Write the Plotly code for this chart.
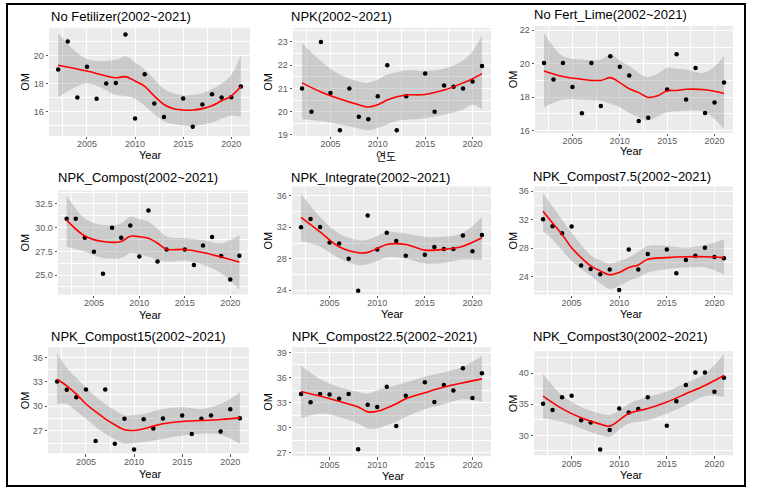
import plotly.graph_objects as go

W, H = 759, 492

years = [2002, 2003, 2004, 2005, 2006, 2007, 2008, 2009, 2010, 2011, 2012, 2013,
         2015, 2016, 2017, 2018, 2019, 2020, 2021]

titles = ["No Fetilizer(2002~2021)", "NPK(2002~2021)", "No Fert_Lime(2002~2021)",
          "NPK_Compost(2002~2021)", "NPK_Integrate(2002~2021)", "NPK_Compost7.5(2002~2021)",
          "NPK_Compost15(2002~2021)", "NPK_Compost22.5(2002~2021)", "NPK_Compost30(2002~2021)"]
xlabels = ["Year", "연도", "Year", "Year", "Year", "Year", "Year", "Year", "Year"]
ylabel = "OM"

# observed OM values
om_nofert = [19.0, 21.0, 17.0, 19.2, 16.9, 18.0, 18.04, 21.5, 15.5, 18.67, 16.57, 15.6,
             16.92, 14.91, 16.5, 17.23, 17.0, 17.02, 17.78]
om_npk = [21.0, 20.0, 23.0, 20.8, 19.2, 21.0, 19.78, 19.68, 20.67, 22.0, 19.2, 20.67,
          21.64, 20.0, 21.13, 21.07, 21.0, 21.3, 21.97]
om_lime = [20.05, 19.05, 20.05, 18.6, 17.03, 20.05, 17.47, 20.45, 19.82, 19.29, 16.57, 16.77,
           18.46, 20.57, 17.86, 19.74, 17.05, 17.68, 18.87]
om_comp = [30.94, 30.94, 28.95, 27.45, 25.15, 30.0, 28.95, 30.24, 26.97, 31.81, 26.44, 27.7,
           27.7, 26.06, 28.12, 29.02, 27.0, 24.52, 27.03]
om_integ = [32.0, 33.05, 32.04, 30.07, 29.94, 28.01, 23.94, 33.5, 29.19, 31.29, 30.24, 28.39,
            28.52, 29.48, 29.23, 29.23, 30.95, 28.94, 31.03]
om_c75 = [32.05, 31.07, 30.1, 31.03, 25.56, 25.1, 24.36, 25.0, 22.14, 27.83, 25.0, 27.19,
          27.83, 24.5, 26.35, 26.95, 28.06, 26.77, 26.58]
om_c15 = [33.04, 32.03, 31.1, 32.07, 25.74, 32.07, 25.42, 28.46, 24.69, 28.42, 27.28, 28.5,
          28.87, 26.6, 28.46, 28.87, 26.92, 29.64, 28.54]
om_c225 = [34.03, 33.04, 34.03, 33.99, 33.47, 34.03, 27.43, 32.76, 32.49, 34.9, 30.2, 33.83,
           35.45, 33.08, 35.1, 34.46, 37.1, 33.55, 36.5]
om_c30 = [35.1, 34.1, 36.12, 36.38, 32.45, 32.07, 27.71, 30.85, 34.31, 33.67, 34.26, 36.12,
          31.54, 35.48, 38.09, 40.11, 40.11, 37.02, 39.26]

# smoothed trend: years, fit, lower, upper
s1_x = [2002, 2005, 2008, 2009, 2010, 2011, 2012, 2013, 2014, 2015, 2016, 2017, 2018, 2019, 2020, 2021]
s1_fit = [19.31, 18.89, 18.41, 18.49, 18.18, 17.8, 17.1, 16.5, 16.2, 16.1, 16.1, 16.2, 16.4, 16.76, 17.1, 17.78]
s1_lo = [17.0, 18.0, 17.2, 17.1, 16.9, 16.4, 15.8, 15.3, 15.1, 15.0, 14.95, 15.05, 15.2, 15.5, 15.7, 15.6]
s1_hi = [21.6, 19.75, 19.7, 19.95, 19.5, 19.0, 18.3, 17.6, 17.3, 17.15, 17.2, 17.3, 17.6, 18.0, 18.6, 20.0]

s2_x = [2002, 2004, 2006, 2008, 2009, 2010, 2011, 2012, 2013, 2015, 2017, 2019, 2020, 2021]
s2_fit = [21.24, 20.85, 20.55, 20.3, 20.2, 20.3, 20.5, 20.64, 20.72, 20.74, 20.93, 21.24, 21.42, 21.64]
s2_lo = [19.68, 19.6, 19.45, 19.28, 19.2, 19.3, 19.45, 19.6, 19.65, 19.72, 19.88, 20.1, 20.3, 20.1]
s2_hi = [22.95, 22.17, 21.6, 21.3, 21.25, 21.38, 21.6, 21.7, 21.78, 21.76, 21.85, 22.2, 22.6, 23.3]

s3_x = [2002, 2004, 2006, 2008, 2009, 2010, 2011, 2012, 2013, 2014, 2015, 2016, 2017, 2019, 2021]
s3_fit = [19.56, 19.23, 19.07, 19.0, 19.17, 18.87, 18.5, 18.27, 17.98, 18.08, 18.38, 18.4, 18.47, 18.44, 18.22]
s3_lo = [17.39, 17.86, 17.86, 17.78, 17.6, 17.39, 17.05, 16.8, 16.6, 16.85, 17.09, 17.15, 17.19, 17.1, 16.1]
s3_hi = [21.84, 20.45, 20.26, 20.26, 20.55, 20.2, 19.86, 19.45, 19.2, 19.4, 19.76, 19.7, 19.66, 19.47, 20.45]

s4_x = [2002, 2004, 2006, 2008, 2009, 2010, 2011, 2012, 2013, 2015, 2017, 2019, 2021]
s4_fit = [30.8, 29.13, 28.54, 28.54, 29.1, 29.05, 28.88, 28.36, 27.73, 27.7, 27.38, 26.9, 26.37]
s4_lo = [28.0, 27.49, 26.8, 26.8, 27.3, 27.2, 26.97, 26.6, 26.44, 26.51, 26.1, 25.2, 23.48]
s4_hi = [33.4, 30.98, 30.28, 30.45, 31.15, 30.9, 30.63, 29.9, 29.06, 28.88, 28.7, 28.36, 29.23]

s5_x = [2002, 2004, 2006, 2008, 2009, 2010, 2011, 2013, 2015, 2017, 2019, 2021]
s5_fit = [33.26, 31.41, 29.52, 28.77, 28.81, 29.31, 29.82, 29.82, 29.1, 29.19, 29.6, 30.66]
s5_lo = [30.24, 29.52, 28.06, 27.2, 27.3, 27.72, 28.2, 28.0, 27.4, 27.5, 27.9, 27.85]
s5_hi = [36.24, 33.3, 31.2, 30.36, 30.4, 30.9, 31.4, 31.2, 30.8, 30.78, 31.3, 33.3]

s6_x = [2002, 2003, 2004, 2005, 2006, 2007, 2008, 2009, 2010, 2011, 2012, 2013, 2015, 2017, 2019, 2021]
s6_fit = [33.16, 31.54, 29.92, 28.06, 26.68, 25.52, 24.82, 24.27, 24.6, 25.29, 25.66, 26.44, 26.68, 26.8, 26.8, 26.68]
s6_lo = [30.38, 29.22, 27.7, 26.21, 25.1, 24.13, 23.1, 22.28, 22.7, 23.44, 23.9, 24.6, 25.06, 25.29, 25.29, 24.36]
s6_hi = [35.7, 33.85, 32.0, 30.15, 28.5, 27.05, 26.3, 25.84, 26.2, 26.68, 27.5, 28.3, 28.3, 28.06, 28.44, 29.22]

s7_x = [2002, 2003, 2004, 2005, 2006, 2007, 2008, 2009, 2010, 2011, 2012, 2013, 2015, 2017, 2019, 2021]
s7_fit = [33.32, 32.51, 31.5, 30.28, 29.35, 28.46, 27.73, 27.12, 27.04, 27.24, 27.57, 27.85, 28.14, 28.26, 28.38, 28.58]
s7_lo = [30.28, 30.28, 29.4, 28.46, 27.5, 26.64, 26.0, 25.42, 25.5, 25.62, 25.8, 26.03, 26.43, 26.64, 26.51, 25.42]
s7_hi = [36.57, 34.74, 33.5, 32.31, 31.2, 30.28, 29.5, 28.87, 28.9, 29.07, 29.4, 29.68, 29.88, 29.68, 30.28, 31.7]

s8_x = [2002, 2004, 2006, 2008, 2009, 2010, 2011, 2012, 2013, 2015, 2017, 2019, 2021]
s8_fit = [34.34, 33.79, 33.16, 32.49, 31.9, 31.97, 32.37, 32.88, 33.47, 34.18, 34.86, 35.37, 35.84]
s8_lo = [31.1, 31.7, 31.3, 30.51, 29.9, 29.9, 30.3, 30.71, 31.3, 32.2, 32.8, 33.4, 33.08]
s8_hi = [37.42, 35.84, 34.86, 34.26, 34.1, 34.46, 34.8, 35.05, 35.4, 36.1, 36.6, 37.3, 38.6]

s9_x = [2002, 2004, 2006, 2008, 2009, 2010, 2011, 2013, 2015, 2017, 2019, 2021]
s9_fit = [36.33, 34.31, 32.82, 31.81, 31.49, 32.45, 33.51, 34.31, 35.37, 36.7, 38.03, 39.63]
s9_lo = [32.71, 32.18, 31.12, 30.05, 29.79, 30.9, 31.91, 32.45, 33.51, 34.84, 36.33, 36.17]
s9_hi = [39.89, 36.44, 34.57, 33.51, 33.24, 34.0, 35.1, 36.17, 37.07, 38.46, 39.89, 43.08]

# y-axis ticks
yt = [
    ([16, 18, 20], ["16", "18", "20"]),
    ([19, 20, 21, 22, 23], ["19", "20", "21", "22", "23"]),
    ([16, 18, 20, 22], ["16", "18", "20", "22"]),
    ([25, 27.5, 30, 32.5], ["25.0", "27.5", "30.0", "32.5"]),
    ([24, 28, 32, 36], ["24", "28", "32", "36"]),
    ([24, 28, 32, 36], ["24", "28", "32", "36"]),
    ([27, 30, 33, 36], ["27", "30", "33", "36"]),
    ([27, 30, 33, 36, 39], ["27", "30", "33", "36", "39"]),
    ([30, 35, 40], ["30", "35", "40"]),
]
yranges = [[14.25, 21.99], [18.96, 23.61], [15.86, 22.27], [22.94, 33.93], [23.46, 37.17],
           [21.5, 36.65], [24.24, 37.25], [26.6, 39.63], [26.8, 43.56]]

# panel boxes in pixels: x0, x1, y0(top), y1(bottom)
boxes = [(49, 250, 28, 137), (293, 491, 28, 137), (535, 733, 26, 134),
         (58, 248, 192, 297), (292, 491, 188, 297), (534, 733, 188, 297),
         (48, 249, 350, 457), (292, 491, 350, 460), (534, 733, 354, 459)]
title_pos = [(49, 17), (289, 17), (532, 15), (56, 179), (289, 179), (531, 178),
             (49, 339), (290, 339), (531, 339)]
xlab_pos = [(150, 156), (386, 157), (631, 152), (150, 318), (392, 317), (631, 317),
            (150, 478), (393, 480), (631, 479)]
ylab_x = [25, 268, 513, 25, 268, 513, 25, 268, 513]

obs = [om_nofert, om_npk, om_lime, om_comp, om_integ, om_c75, om_c15, om_c225, om_c30]
smooth = [(s1_x, s1_fit, s1_lo, s1_hi), (s2_x, s2_fit, s2_lo, s2_hi), (s3_x, s3_fit, s3_lo, s3_hi),
          (s4_x, s4_fit, s4_lo, s4_hi), (s5_x, s5_fit, s5_lo, s5_hi), (s6_x, s6_fit, s6_lo, s6_hi),
          (s7_x, s7_fit, s7_lo, s7_hi), (s8_x, s8_fit, s8_lo, s8_hi), (s9_x, s9_fit, s9_lo, s9_hi)]

FONT = "Liberation Sans, Arial, sans-serif"
fig = go.Figure()
annotations = []
layout = {}
for i in range(9):
    n = "" if i == 0 else str(i + 1)
    xa, ya = "x" + n, "y" + n
    sx, sfit, slo, shi = smooth[i]
    fig.add_trace(go.Scatter(x=sx, y=slo, mode="lines", line=dict(width=0, shape="spline"),
                             xaxis=xa, yaxis=ya, showlegend=False, hoverinfo="skip"))
    fig.add_trace(go.Scatter(x=sx, y=shi, mode="lines", line=dict(width=0, shape="spline"),
                             fill="tonexty", fillcolor="rgba(153,153,153,0.4)",
                             xaxis=xa, yaxis=ya, showlegend=False, hoverinfo="skip"))
    fig.add_trace(go.Scatter(x=years, y=obs[i], mode="markers",
                             marker=dict(color="black", size=4.5),
                             xaxis=xa, yaxis=ya, showlegend=False))
    fig.add_trace(go.Scatter(x=sx, y=sfit, mode="lines",
                             line=dict(color="#FF0000", width=1.6, shape="spline"),
                             xaxis=xa, yaxis=ya, showlegend=False))
    x0, x1, y0, y1 = boxes[i]
    layout["xaxis" + n] = dict(
        domain=[x0 / W, x1 / W], anchor=ya, range=[2001.05, 2021.95],
        tickvals=[2005, 2010, 2015, 2020], ticks="outside", ticklen=2.5, tickcolor="#555",
        ticklabelstandoff=-3,
        tickfont=dict(size=9, color="#5a5a5a", family=FONT),
        showgrid=True, gridcolor="white", gridwidth=1, zeroline=False, showline=False,
        minor=dict(tickvals=[2002.5, 2007.5, 2012.5, 2017.5], showgrid=True,
                   gridcolor="white", gridwidth=0.5),
        fixedrange=True)
    tv, tt = yt[i]
    minor_vals = [(tv[k] + tv[k + 1]) / 2 for k in range(len(tv) - 1)]
    step = tv[1] - tv[0]
    minor_vals = [tv[0] - step / 2] + minor_vals + [tv[-1] + step / 2]
    layout["yaxis" + n] = dict(
        domain=[1 - y1 / H, 1 - y0 / H], anchor=xa, range=yranges[i],
        tickvals=tv, ticktext=tt, ticks="outside", ticklen=2.5, tickcolor="#555",
        tickfont=dict(size=9, color="#5a5a5a", family=FONT),
        showgrid=True, gridcolor="white", gridwidth=1, zeroline=False, showline=False,
        minor=dict(tickvals=minor_vals, showgrid=True, gridcolor="white", gridwidth=0.5),
        fixedrange=True)
    tx, ty = title_pos[i]
    annotations.append(dict(text=titles[i], x=tx / W, y=1 - ty / H, xref="paper", yref="paper",
                            xanchor="left", yanchor="middle", showarrow=False,
                            font=dict(size=13, color="black", family=FONT)))
    lx, ly = xlab_pos[i]
    annotations.append(dict(text=xlabels[i], x=lx / W, y=1 - ly / H, xref="paper", yref="paper",
                            xanchor="center", yanchor="middle", showarrow=False,
                            font=dict(size=11, color="black",
                                      family=FONT if xlabels[i] == "Year" else "Noto Sans CJK KR")))
    annotations.append(dict(text=ylabel, x=ylab_x[i] / W, y=1 - ((y0 + y1) / 2) / H,
                            xref="paper", yref="paper", xanchor="center", yanchor="middle",
                            textangle=-90, showarrow=False,
                            font=dict(size=11, color="black", family=FONT)))

fig.update_layout(
    width=W, height=H, margin=dict(l=0, r=0, t=0, b=0),
    paper_bgcolor="white", plot_bgcolor="#EBEBEB",
    annotations=annotations,
    shapes=[dict(type="rect", xref="paper", yref="paper", x0=7 / W, x1=745 / W,
                 y0=1 - 490 / H, y1=1 - 4 / H, line=dict(color="black", width=2))],
    **layout)

fig.write_html("out.html")
